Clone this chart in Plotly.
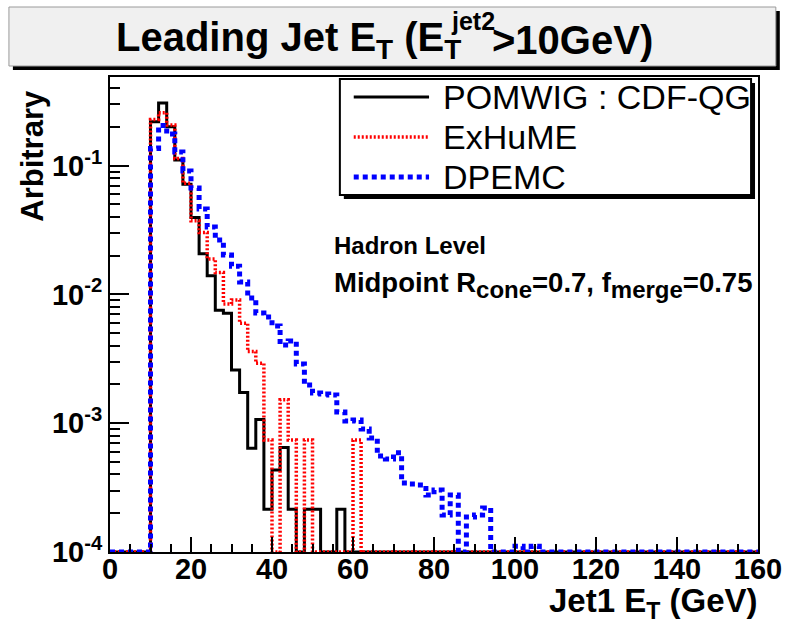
import plotly.graph_objects as go
import numpy as np

# ---- data (bin width 2 GeV, first filled bin starts at 10 GeV) ----
bin_width = 2.0
x_min, x_max = 0.0, 160.0
first_bin_lo = 10.0

pomwig = [0.220, 0.307, 0.201, 0.111, 0.0717, 0.0396, 0.0207, 0.01396, 0.00754, 0.00714,
          0.00259, 0.00173, 6.4e-4, 1.07e-3, 2.15e-4, 4.33e-4, 6.47e-4, 2.15e-4, 0, 2.15e-4,
          2.15e-4, 0, 0, 2.15e-4]
exhume = [0.229, 0.258, 0.207, 0.114, 0.073, 0.0373, 0.0303, 0.0189, 0.0148, 0.00843,
          0.00906, 0.00597, 0.0036, 0.00292, 7.41e-4, 0, 1.52e-3, 7.41e-4, 0, 7.41e-4,
          0, 0, 0, 0, 0, 7.41e-4]
dpemc = [0.136, 0.205, 0.176, 0.128, 0.091, 0.0671, 0.0461, 0.0334, 0.0265, 0.0203,
         0.0166, 0.0125, 0.0094, 0.00718, 0.00668, 0.00569, 0.00405, 0.00435, 0.00288, 0.00198,
         0.00172, 0.00169, 0.00166, 0.00122, 0.00104, 0.00106, 9.03e-4, 7.69e-4, 5.57e-4, 5.28e-4,
         5.89e-4, 3.44e-4, 3.38e-4, 3.32e-4, 2.77e-4, 3.03e-4, 1.94e-4, 2.77e-4, 0, 1.87e-4,
         1.94e-4, 2.2e-4, 0, 0, 0, 1.11e-4, 0, 1.11e-4]

series_names = ["POMWIG : CDF-QG", "ExHuME", "DPEMC"]
x_ticks = [0, 20, 40, 60, 80, 100, 120, 140, 160]
y_decades = [-4, -3, -2, -1]

Y_FLOOR = 1e-4
LOG_TOP = -0.311

nbins = int(round((x_max - x_min) / bin_width))
edges = x_min + bin_width * np.arange(nbins + 1)


def full_hist(vals):
    h = np.zeros(nbins)
    i0 = int(round((first_bin_lo - x_min) / bin_width))
    h[i0:i0 + len(vals)] = vals
    h = np.where(h <= 0, Y_FLOOR, h)
    return list(edges), list(h) + [h[-1]]


styles = [
    dict(color="#000000", width=3, dash="solid"),
    dict(color="#ff0000", width=3.5, dash="2px,2px"),
    dict(color="#0000ff", width=5, dash="5px,4px"),
]

fig = go.Figure()
for name, vals, st in zip(series_names, [pomwig, exhume, dpemc], styles):
    xs, ys = full_hist(vals)
    fig.add_trace(go.Scatter(x=xs, y=ys, mode="lines", line_shape="hv", name=name,
                             line=st, showlegend=False))

# layout geometry (pixels)
W, H = 794, 625
L, R, T, B = 110, 30, 77, 73
pw, ph = W - L - R, H - T - B


def px(x):
    return (x - L) / pw


def py(y):
    return (H - B - y) / ph


FONT = "Liberation Sans"

minor_y = [k * 10.0 ** d for d in range(-4, 0) for k in range(2, 10)]
fig.update_layout(
    width=W, height=H,
    margin=dict(l=L, r=R, t=T, b=B),
    paper_bgcolor="white", plot_bgcolor="white",
    font=dict(family=FONT, color="black"),
    xaxis=dict(range=[x_min, x_max], tickvals=x_ticks,
               ticktext=[f"<b>{v}</b>" for v in x_ticks],
               tickfont=dict(size=29, family=FONT),
               ticklabelstandoff=-10,
               ticks="inside", ticklen=15, tickwidth=2, tickcolor="black",
               minor=dict(ticks="inside", ticklen=8, dtick=5, tickwidth=1.5, tickcolor="black"),
               showgrid=False, zeroline=False,
               showline=True, linecolor="black", linewidth=2, mirror=True),
    yaxis=dict(type="log", range=[-4, LOG_TOP],
               tickvals=[10.0 ** d for d in y_decades],
               ticktext=[f"<b>10<sup>{d}</sup></b>" for d in y_decades],
               tickfont=dict(size=29, family=FONT),
               ticks="inside", ticklen=19, tickwidth=2, tickcolor="black",
               minor=dict(ticks="inside", ticklen=10, tickvals=minor_y, tickwidth=1.5, tickcolor="black"),
               showgrid=False, zeroline=False,
               showline=True, linecolor="black", linewidth=2, mirror=True),
)

shapes = []
annos = []

# title box with shadow
shapes.append(dict(type="rect", xref="paper", yref="paper",
                   x0=px(12), x1=px(786), y0=py(70), y1=py(11),
                   fillcolor="black", line=dict(width=0), layer="above"))
shapes.append(dict(type="rect", xref="paper", yref="paper",
                   x0=px(8), x1=px(782), y0=py(66), y1=py(7),
                   fillcolor="#f0f0f0", line=dict(color="#9a9a9a", width=1), layer="above"))
annos.append(dict(xref="paper", yref="paper", x=px(466), y=py(40), xanchor="right", yanchor="middle",
                  text="<b>Leading Jet E<sub>T</sub> (E<sub>T</sub></b>", showarrow=False,
                  font=dict(size=40, family=FONT)))
annos.append(dict(xref="paper", yref="paper", x=px(452), y=py(21), xanchor="left", yanchor="middle",
                  text="<b>jet2</b>", showarrow=False, font=dict(size=25, family=FONT)))
annos.append(dict(xref="paper", yref="paper", x=px(494), y=py(40), xanchor="left", yanchor="middle",
                  text="<b>>10GeV)</b>", showarrow=False, font=dict(size=40, family=FONT)))

# axis titles
annos.append(dict(xref="paper", yref="paper", x=px(31), y=py(156), xanchor="center", yanchor="middle",
                  text="<b>Arbitrary</b>", textangle=-90, showarrow=False,
                  font=dict(size=31, family=FONT)))
annos.append(dict(xref="paper", yref="paper", x=px(766), y=py(603), xanchor="right", yanchor="middle",
                  text="<b>Jet1 E<sub>T</sub> (GeV)</b>", showarrow=False,
                  font=dict(size=33, family=FONT)))

# legend box (with shadow)
shapes.append(dict(type="rect", xref="paper", yref="paper",
                   x0=px(346), x1=px(761), y0=py(199), y1=py(83),
                   fillcolor="black", line=dict(width=0), layer="above"))
shapes.append(dict(type="rect", xref="paper", yref="paper",
                   x0=px(342), x1=px(757), y0=py(195), y1=py(79),
                   fillcolor="white", line=dict(color="black", width=2), layer="above"))
leg_y = [97, 137, 177]
for name, st, yy in zip(series_names, styles, leg_y):
    shapes.append(dict(type="line", xref="paper", yref="paper",
                       x0=px(356), x1=px(432), y0=py(yy), y1=py(yy),
                       line=dict(color=st["color"], width=st["width"], dash=st["dash"]),
                       layer="above"))
    annos.append(dict(xref="paper", yref="paper", x=px(444), y=py(yy), xanchor="left", yanchor="middle",
                      text=name, showarrow=False, font=dict(size=34, family=FONT)))

# text labels
annos.append(dict(xref="paper", yref="paper", x=px(334), y=py(245), xanchor="left", yanchor="middle",
                  text="<b>Hadron Level</b>", showarrow=False, font=dict(size=24, family=FONT)))
annos.append(dict(xref="paper", yref="paper", x=px(334), y=py(285), xanchor="left", yanchor="middle",
                  text=("<b>Midpoint R<sub><span style='font-size:24px'>cone</span></sub>=0.7, "
                        "f<sub><span style='font-size:24px'>merge</span></sub>=0.75</b>"),
                  showarrow=False, font=dict(size=27.5, family=FONT)))

fig.update_layout(shapes=shapes, annotations=annos)
fig.write_html("out.html")
